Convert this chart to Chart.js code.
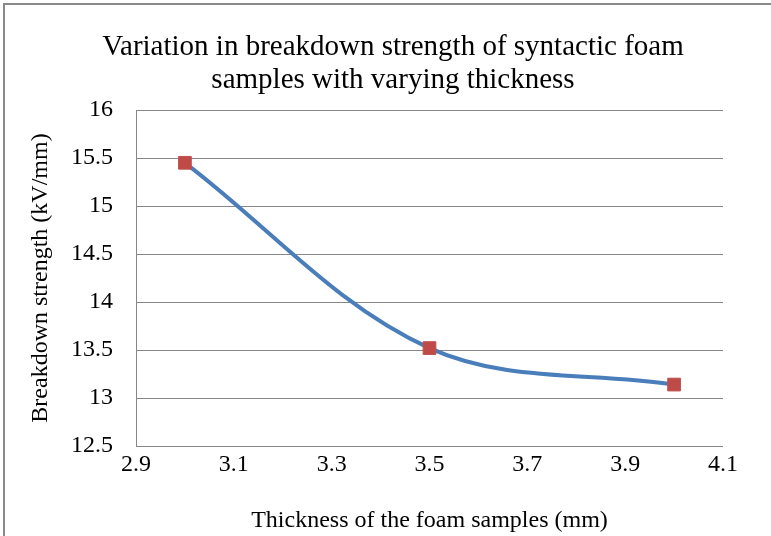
<!DOCTYPE html>
<html>
<head>
<meta charset="utf-8">
<script src="https://cdn.jsdelivr.net/npm/chart.js@4"></script>
<style>
  html, body { margin: 0; padding: 0; background: #fff; }
  #wrap { position: relative; width: 771px; height: 536px; }
</style>
</head>
<body>
<div id="wrap"><canvas id="myChart" width="771" height="536"></canvas></div>
<script>
const thickness = [3.0, 3.5, 4.0];
const strength = [15.45, 13.52, 13.14];
const xTicks = [2.9, 3.1, 3.3, 3.5, 3.7, 3.9, 4.1];
const yTicks = [12.5, 13, 13.5, 14, 14.5, 15, 15.5, 16];
const titleLines = ["Variation in breakdown strength of syntactic foam", "samples with varying thickness"];

const serif = "'Liberation Serif', 'Times New Roman', serif";

// outer frame like the Excel chart border + centred title
const framePlugin = {
  id: "frame",
  afterDraw(chart) {
    const c = chart.ctx;
    c.save();
    c.strokeStyle = "#8a8a8a";
    c.lineWidth = 2;
    c.strokeRect(4, 4, 800, 600);

    c.fillStyle = "#000";
    c.font = "29px " + serif;
    c.textAlign = "center";
    c.textBaseline = "middle";
    titleLines.forEach((line, i) => {
      c.fillText(line, 393, 47 + i * 33);
    });
    c.restore();
  },
};

const ctx = document.getElementById("myChart").getContext("2d");

new Chart(ctx, {
  type: "line",
  data: {
    datasets: [
      {
        data: thickness.map((x, i) => ({ x: x, y: strength[i] })),
        borderColor: "#4a7ebb",
        borderWidth: 4,
        tension: 0.35,
        pointStyle: "rect",
        pointRadius: 9,
        pointBackgroundColor: "#be4b48",
        pointBorderColor: "#c0504d",
        pointBorderWidth: 1,
      },
    ],
  },
  options: {
    responsive: false,
    animation: false,
    layout: { padding: { left: 26, right: 48, top: 110, bottom: 0 } },
    plugins: {
      legend: { display: false },
      tooltip: { enabled: false },
      title: { display: false },
    },
    scales: {
      x: {
        type: "linear",
        min: 2.9,
        max: 4.1,
        afterBuildTicks: (s) => { s.ticks = xTicks.map((v) => ({ value: v })); },
        afterFit: (s) => { s.height = 90; },
        grid: { display: false, drawTicks: false },
        border: { display: false },
        ticks: {
          color: "#000",
          padding: 4,
          font: { family: serif, size: 24 },
          maxRotation: 0,
          callback: (v) => String(v),
        },
        title: {
          display: true,
          text: "Thickness of the foam samples (mm)",
          color: "#000",
          font: { family: serif, size: 24 },
          padding: { top: 0, bottom: 1 },
        },
      },
      y: {
        min: 12.5,
        max: 16,
        afterBuildTicks: (s) => { s.ticks = yTicks.map((v) => ({ value: v })); },
        afterFit: (s) => { s.width = 110; },
        grid: { color: "#878787", lineWidth: 1, drawTicks: false },
        border: { display: true, color: "#878787", width: 1 },
        ticks: {
          color: "#000",
          padding: 23,
          font: { family: serif, size: 24 },
          callback: (v) => String(v),
        },
        title: {
          display: true,
          text: "Breakdown strength (kV/mm)",
          color: "#000",
          font: { family: serif, size: 24 },
          padding: { top: 0, bottom: 0 },
        },
      },
    },
  },
  plugins: [framePlugin],
});
</script>
</body>
</html>
